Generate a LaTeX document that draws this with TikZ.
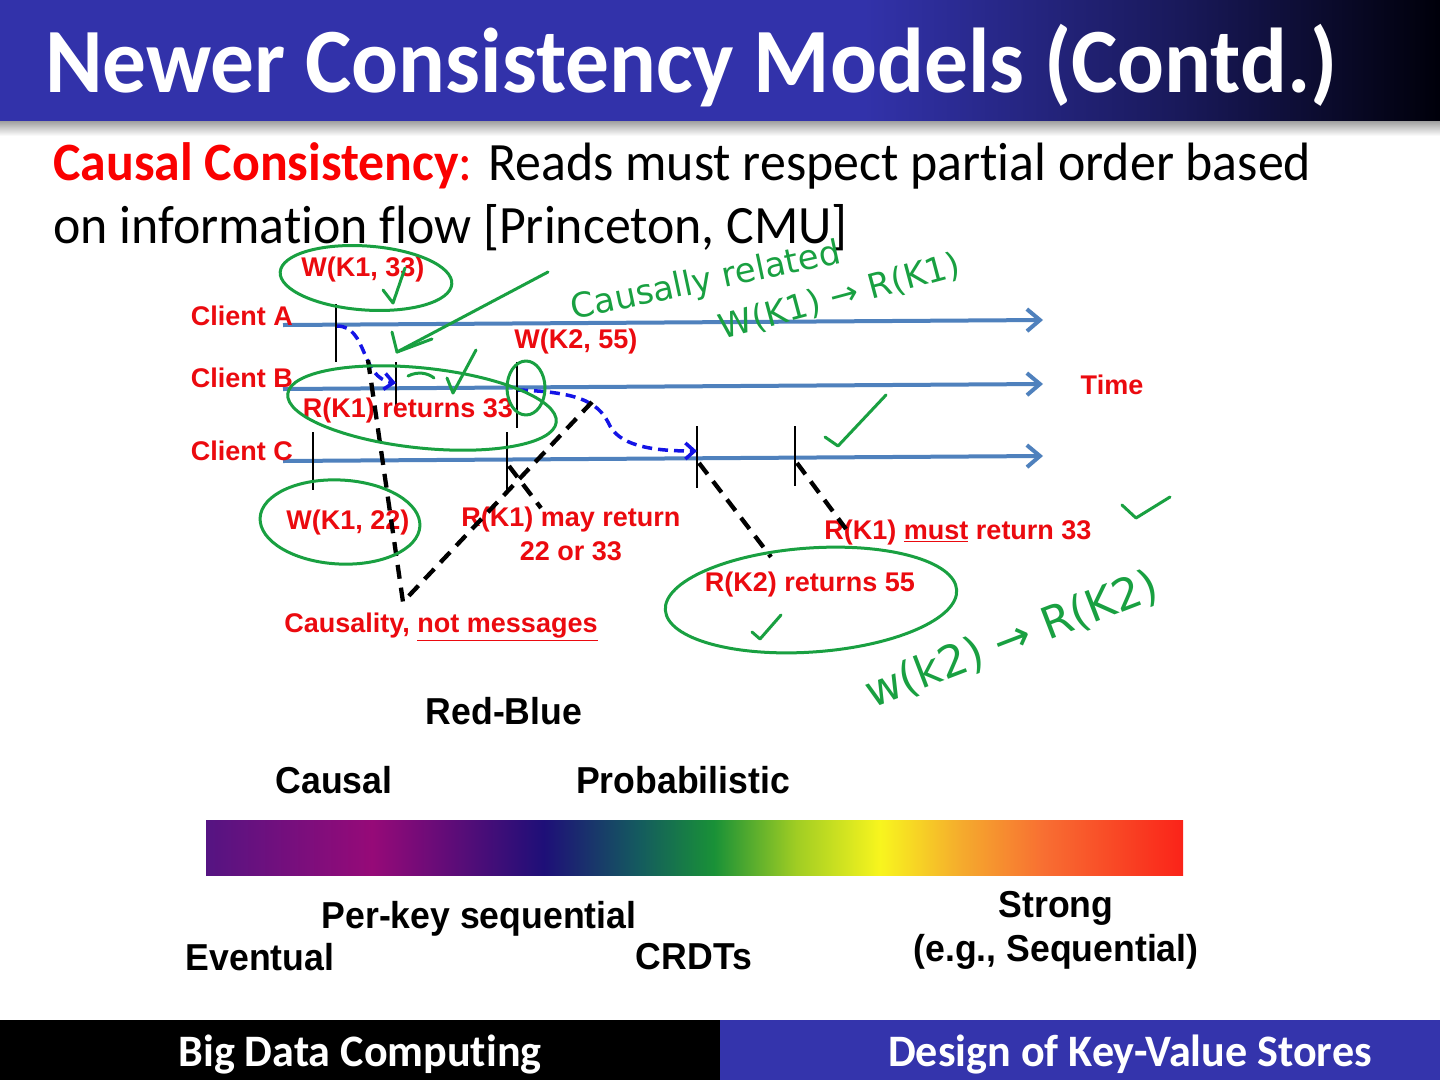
\documentclass[tikz,border=0pt]{standalone}
\usepackage{fontspec}
\setmainfont{Carlito}
\newfontfamily\calfont[FakeStretch=0.95,Ligatures=NoCommon]{Carlito}
\newfontfamily\subfont[FakeStretch=0.96,Ligatures=NoCommon]{Carlito}
\newfontfamily\footfont[FakeStretch=0.98,Ligatures=NoCommon]{Carlito}
\newfontfamily\arialb{Liberation Sans}
\newfontfamily\arialn[FakeStretch=0.95]{Liberation Sans}
\newfontfamily\handfont{DejaVu Sans}
\usetikzlibrary{arrows.meta}
\definecolor{titleblue}{RGB}{50,50,170}
\definecolor{titlenavy}{RGB}{25,25,90}
\definecolor{titleblack}{RGB}{0,0,10}
\definecolor{footblue}{RGB}{52,52,172}
\definecolor{tlblue}{RGB}{79,129,189}
\definecolor{arrblue}{RGB}{20,20,230}
\definecolor{lblred}{RGB}{235,10,15}
\definecolor{subred}{RGB}{250,0,0}
\definecolor{ink}{RGB}{25,160,65}
\definecolor{s0}{RGB}{85,20,130}
\definecolor{s1}{RGB}{150,10,120}
\definecolor{s2}{RGB}{30,15,120}
\definecolor{s3}{RGB}{20,90,95}
\definecolor{s4}{RGB}{25,145,55}
\definecolor{s5}{RGB}{160,205,35}
\definecolor{s6}{RGB}{248,245,30}
\definecolor{s7}{RGB}{245,170,45}
\definecolor{s8}{RGB}{248,110,50}
\definecolor{s9}{RGB}{250,35,25}
\pgfdeclarehorizontalshading{spectrum}{100bp}{color(0bp)=(s0); color(25bp)=(s0); color(33.5bp)=(s1); color(42.3bp)=(s2); color(47.1bp)=(s3); color(51bp)=(s4); color(55.2bp)=(s5); color(59.5bp)=(s6); color(63.7bp)=(s7); color(67.9bp)=(s8); color(75bp)=(s9); color(100bp)=(s9)}
\pgfdeclarehorizontalshading{titlegrad}{100bp}{color(0bp)=(titleblue); color(25bp)=(titleblue); color(55bp)=(titleblue); color(66bp)=(titlenavy); color(75bp)=(titleblack); color(100bp)=(titleblack)}
\begin{document}
\begin{tikzpicture}[x=1pt,y=-1pt,
  redlbl/.style={text=lblred, font=\arialb\bfseries\fontsize{27}{34}\selectfont, inner sep=0pt},
  blklbl/.style={text=black, font=\arialn\bfseries\fontsize{37.5}{44}\selectfont, inner sep=0pt},
  timeline/.style={line width=4pt, draw=tlblue, -{Straight Barb[length=13pt,width=22pt]}},
  tickmark/.style={line width=1.2pt, draw=black},
  bluearr/.style={line width=3.5pt, draw=arrblue, dash pattern=on 10pt off 6pt, -{Straight Barb[length=9pt,width=16pt]}},
  blackdash/.style={line width=4.3pt, draw=black, dash pattern=on 14pt off 9pt},
  inkline/.style={draw=ink, line width=3pt, line cap=round, line join=round},
  inktext/.style={text=ink, font=\handfont\fontsize{34}{40}\selectfont, inner sep=0pt}
]
\useasboundingbox (0,0) rectangle (1440,1080);
\fill[white] (0,0) rectangle (1440,1080);

% title bar
\shade[top color=black!45, bottom color=white] (0,118) rectangle (1440,136);
\shade[shading=titlegrad] (0,0) rectangle (1440,120);
\node[anchor=base west, inner sep=0pt, text=white, font=\calfont\bfseries\fontsize{92}{100}\selectfont] (title) at (45,92) {Newer Consistency Models (Contd.)};

% subtitle
\node[anchor=base west, inner sep=0pt, font=\subfont\fontsize{54}{60}\selectfont] (sub1) at (53,180) {\textcolor{subred}{\bfseries Causal Consistency}\textcolor{subred}{:} Reads must respect partial order based};
\node[anchor=base west, inner sep=0pt, font=\subfont\fontsize{54}{60}\selectfont] (sub2) at (53,243) {on information flow [Princeton, CMU]};

% timelines
\coordinate (As) at (283,325); \coordinate (Ae) at (1043,320);
\coordinate (Bs) at (283,389); \coordinate (Be) at (1043,384);
\coordinate (Cs) at (283,461); \coordinate (Ce) at (1043,456);
\draw[timeline] (As) -- (Ae);
\draw[timeline] (Bs) -- (Be);
\draw[timeline] (Cs) -- (Ce);
\node[redlbl, anchor=east] (cA) at (293,316) {Client A};
\node[redlbl, anchor=east] (cB) at (293,378) {Client B};
\node[redlbl, anchor=east] (cC) at (293,451) {Client C};
\node[redlbl] (time) at (1112,385) {Time};

% ticks
\coordinate (a1t) at (336,304); \coordinate (a1b) at (336,362);
\coordinate (b1t) at (396,362); \coordinate (b1b) at (396,412);
\coordinate (b2t) at (517,362); \coordinate (b2b) at (517,428);
\coordinate (c1t) at (313,432); \coordinate (c1b) at (313,490);
\coordinate (c2t) at (507,432); \coordinate (c2b) at (507,493);
\coordinate (c3t) at (697,426); \coordinate (c3b) at (697,488);
\coordinate (c4t) at (795,426); \coordinate (c4b) at (795,486);
\draw[tickmark] (a1t) -- (a1b);
\draw[tickmark] (b1t) -- (b1b);
\draw[tickmark] (b2t) -- (b2b);
\draw[tickmark] (c1t) -- (c1b);
\draw[tickmark] (c2t) -- (c2b);
\draw[tickmark] (c3t) -- (c3b);
\draw[tickmark] (c4t) -- (c4b);

% labels
\node[redlbl] (w133) at (363,270) {W(K1, 33)};
\node[redlbl] (w255) at (576,342) {W(K2, 55)};
\node[redlbl] (r1r33) at (408,411) {R(K1) returns 33};
\node[redlbl] (w122) at (348,523) {W(K1, 22)};
\node[redlbl, align=center] (rmay) at (571,534) {R(K1) may return\\22 or 33};
\node[redlbl] (rmust) at (958,533) {R(K1) \underline{must} return 33};
\node[redlbl] (rk2) at (810,585) {R(K2) returns 55};
\node[redlbl] (caus) at (441,627) {Causality, \underline{not messages}};

% blue dashed message arrows
\coordinate (m1s) at (337,326); \coordinate (m1e) at (396,383);
\draw[bluearr] (m1s) .. controls (368,326) and (360,378) .. (m1e);
\coordinate (m2s) at (518,390); \coordinate (m2m) at (610,426); \coordinate (m2e) at (697,451);
\draw[bluearr] (m2s) .. controls (585,392) and (600,405) .. (m2m) .. controls (622,448) and (660,451) .. (m2e);

% black dashed lines
\coordinate (v1) at (368,360); \coordinate (vv) at (403,602); \coordinate (v2) at (592,402);
\draw[blackdash] (v1) -- (vv) -- (v2);
\coordinate (d1s) at (509,466); \coordinate (d1e) at (541,508);
\draw[blackdash] (d1s) -- (d1e);
\coordinate (d2s) at (699,463); \coordinate (d2e) at (771,557);
\draw[blackdash] (d2s) -- (d2e);
\coordinate (d3s) at (797,463); \coordinate (d3e) at (846,529);
\draw[blackdash] (d3s) -- (d3e);

% spectrum bar
\shade[shading=spectrum] (206,820) rectangle (1183,875);
\node[blklbl] (redblue) at (504,711) {Red-Blue};
\node[blklbl] (causal) at (334,780) {Causal};
\node[blklbl] (prob) at (683,780) {Probabilistic};
\node[blklbl] (perkey) at (479,919) {Per-key sequential};
\node[blklbl] (event) at (260,957) {Eventual};
\node[blklbl] (crdt) at (694,957) {CRDTs};
\node[blklbl, align=center] (strong) at (1056,930) {Strong\\(e.g., Sequential)};

% footer
\fill[black] (0,1020) rectangle (720,1080);
\fill[footblue] (720,1020) rectangle (1440,1080);
\node[text=white, inner sep=0pt, anchor=base, font=\footfont\bfseries\fontsize{45}{50}\selectfont] (foot1) at (360,1066) {Big Data Computing};
\node[text=white, inner sep=0pt, anchor=base, font=\footfont\bfseries\fontsize{45}{50}\selectfont] (foot2) at (1130,1066) {Design of Key-Value Stores};

% green ink annotations
\draw[inkline, rotate around={-4:(366,278)}] (366,278) ellipse [x radius=86, y radius=32];
\draw[inkline] (405,268) -- (393,303) -- (383,290);
\draw[inkline] (548,272) -- (397,352);
\draw[inkline] (392,332) -- (397,352) -- (432,339);
\draw[inkline, rotate around={-6:(422,408)}] (422,408) ellipse [x radius=135, y radius=40];
\draw[inkline] (526,388) ellipse [x radius=19, y radius=27];
\draw[inkline] (447,378) -- (453,393) -- (476,350);
\draw[inkline] (408,376) .. controls (418,371) and (428,373) .. (434,378);
\draw[inkline, rotate around={-3:(340,522)}] (340,522) ellipse [x radius=80, y radius=42];
\draw[inkline, rotate around={4:(811,600)}] (811,600) ellipse [x radius=146, y radius=52];
\draw[inkline] (825,437) -- (838,446) -- (886,395);
\draw[inkline] (1122,505) -- (1136,518) -- (1170,497);
\draw[inkline] (752,632) -- (760,639) -- (781,615);
\node[inktext, rotate=12] (hw1) at (706,282) {Causally related};
\node[inktext, rotate=15] (hw2) at (840,297) {W(K1) → R(K1)};
\node[inktext, rotate=21, font=\handfont\fontsize{44}{48}\selectfont] (hw3) at (1012,640) {w(k2) → R(K2)};
\end{tikzpicture}
\end{document}
